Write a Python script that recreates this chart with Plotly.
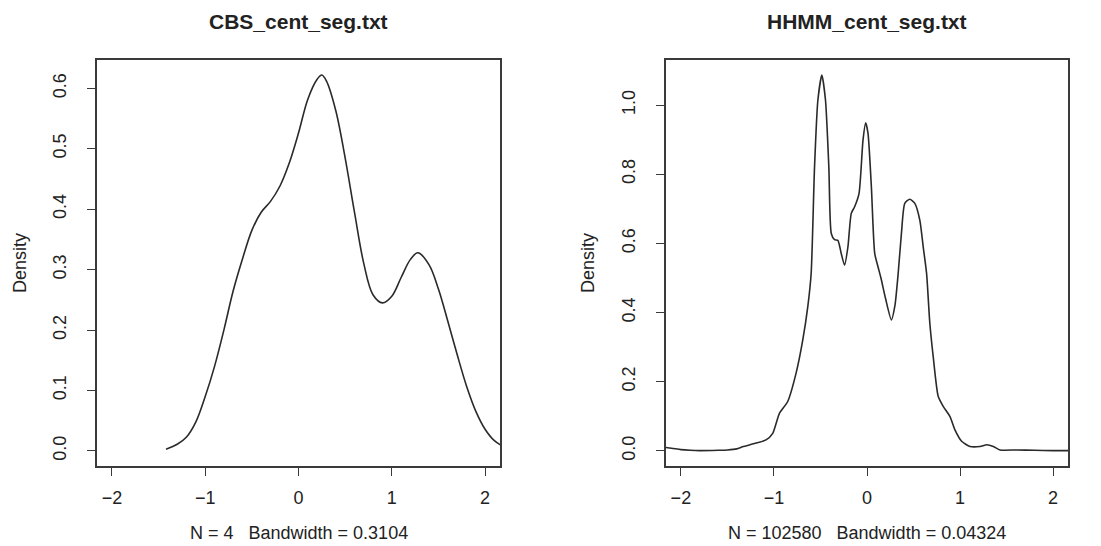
import plotly.graph_objects as go

# ---- data ----
cbs_title = "CBS_cent_seg.txt"
cbs_xlab = "N = 4\u00a0\u00a0\u00a0Bandwidth = 0.3104"
cbs_x = [-1.42, -1.3, -1.2, -1.1, -1.0, -0.9, -0.8, -0.7, -0.6, -0.5, -0.4, -0.3, -0.2, -0.1,
         0.0, 0.1, 0.2, 0.25, 0.3, 0.4, 0.5, 0.6, 0.7, 0.8, 0.9, 1.0, 1.1, 1.2, 1.28,
         1.4, 1.5, 1.6, 1.7, 1.8, 1.9, 2.0, 2.1, 2.2]
cbs_y = [0.003, 0.011, 0.023, 0.048, 0.09, 0.14, 0.2, 0.265, 0.318, 0.365, 0.395, 0.413, 0.438, 0.476,
         0.526, 0.582, 0.615, 0.622, 0.612, 0.563, 0.485, 0.395, 0.31, 0.258, 0.245, 0.256, 0.287, 0.317, 0.328,
         0.308, 0.268, 0.215, 0.16, 0.108, 0.066, 0.036, 0.017, 0.007]

hhmm_title = "HHMM_cent_seg.txt"
hhmm_xlab = "N = 102580\u00a0\u00a0\u00a0Bandwidth = 0.04324"
hhmm_x = [-2.2, -2.1, -2.0, -1.9, -1.8, -1.6, -1.5, -1.4, -1.337, -1.2, -1.085, -1.013, -0.941, -0.852,
          -0.762, -0.69, -0.636, -0.6, -0.564, -0.528, -0.485, -0.446, -0.41, -0.384, -0.349, -0.313,
          -0.277, -0.241, -0.205, -0.169, -0.133, -0.086, -0.043, -0.014, 0.011, 0.047, 0.083, 0.119,
          0.15, 0.2, 0.262, 0.3, 0.334, 0.37, 0.406, 0.46, 0.514, 0.568, 0.604, 0.64, 0.675, 0.711,
          0.765, 0.819, 0.891, 0.945, 1.017, 1.107, 1.215, 1.287, 1.358, 1.43, 1.61, 1.8, 2.0, 2.2]
hhmm_y = [0.011, 0.008, 0.004, 0.002, 0.001, 0.002, 0.003, 0.006, 0.012, 0.022, 0.032, 0.051, 0.109, 0.143,
          0.225, 0.321, 0.418, 0.514, 0.82, 1.014, 1.087, 1.014, 0.82, 0.629, 0.611, 0.609,
          0.571, 0.537, 0.59, 0.687, 0.706, 0.744, 0.899, 0.949, 0.918, 0.764, 0.571, 0.532,
          0.5, 0.44, 0.379, 0.42, 0.51, 0.629, 0.716, 0.728, 0.716, 0.667, 0.59, 0.514, 0.37, 0.274,
          0.158, 0.129, 0.1, 0.061, 0.028, 0.013, 0.013, 0.018, 0.013, 0.003, 0.003, 0.002, 0.001, 0.001]

x_ticks = [-2, -1, 0, 1, 2]
x_ticklabels = ["\u22122", "\u22121", "0", "1", "2"]
cbs_yticks = [0.0, 0.1, 0.2, 0.3, 0.4, 0.5, 0.6]
cbs_yticklabels = ["0.0", "0.1", "0.2", "0.3", "0.4", "0.5", "0.6"]
hhmm_yticks = [0.0, 0.2, 0.4, 0.6, 0.8, 1.0]
hhmm_yticklabels = ["0.0", "0.2", "0.4", "0.6", "0.8", "1.0"]
y_label = "Density"

# ---- layout constants (pixels) ----
W, H = 1101, 546
FONT = "Liberation Sans, Arial, Helvetica, sans-serif"
TXT = "#222222"
LINE = "#3a3a3a"
box_l = (97, 500)
box_r = (666, 1068)
box_top, box_bot = 60, 466

def px_x(p):
    return p / W

def px_y(p):
    return 1 - p / H

fig = go.Figure()
fig.add_trace(go.Scatter(x=cbs_x, y=cbs_y, mode="lines", xaxis="x", yaxis="y",
                         line=dict(color="#2a2a2a", width=1.6, shape="spline", smoothing=1.0),
                         hoverinfo="skip", showlegend=False, cliponaxis=True))
fig.add_trace(go.Scatter(x=hhmm_x, y=hhmm_y, mode="lines", xaxis="x2", yaxis="y2",
                         line=dict(color="#2a2a2a", width=1.6, shape="spline", smoothing=0.6),
                         hoverinfo="skip", showlegend=False, cliponaxis=True))

cbs_ymax = max(cbs_y)
hhmm_ymax = max(hhmm_y)

common_axis = dict(showline=True, linecolor=LINE, linewidth=1.5, mirror=True,
                   ticks="outside", ticklen=8, tickwidth=1.3, tickcolor=LINE,
                   showgrid=False, zeroline=False,
                   tickfont=dict(family=FONT, size=18, color=TXT))

fig.update_layout(
    width=W, height=H, margin=dict(l=0, r=0, t=0, b=0),
    paper_bgcolor="white", plot_bgcolor="white",
    xaxis=dict(domain=[px_x(box_l[0]), px_x(box_l[1])], range=[-2.16, 2.16],
               tickvals=x_ticks, ticktext=x_ticklabels,
               anchor="y", ticklabelstandoff=7, **common_axis),
    yaxis=dict(domain=[px_y(box_bot), px_y(box_top)],
               range=[-0.04 * cbs_ymax, 1.04 * cbs_ymax],
               tickvals=cbs_yticks, ticktext=cbs_yticklabels, tickangle=-90,
               anchor="x", ticklabelstandoff=14, **common_axis),
    xaxis2=dict(domain=[px_x(box_r[0]), px_x(box_r[1])], range=[-2.16, 2.16],
                tickvals=x_ticks, ticktext=x_ticklabels,
                anchor="y2", ticklabelstandoff=7, **common_axis),
    yaxis2=dict(domain=[px_y(box_bot), px_y(box_top)],
                range=[-0.04 * hhmm_ymax, 1.04 * hhmm_ymax],
                tickvals=hhmm_yticks, ticktext=hhmm_yticklabels, tickangle=-90,
                anchor="x2", ticklabelstandoff=14, **common_axis),
)

ann = []
for (l, r), title, xlab, ylab_x in [(box_l, cbs_title, cbs_xlab, 20), (box_r, hhmm_title, hhmm_xlab, 588)]:
    cx = px_x((l + r) / 2)
    ann.append(dict(text="<b>" + title + "</b>", x=cx, y=px_y(22), xref="paper", yref="paper",
                    xanchor="center", yanchor="middle", showarrow=False,
                    font=dict(family=FONT, size=21, color=TXT)))
    ann.append(dict(text=xlab, x=cx, y=px_y(533), xref="paper", yref="paper",
                    xanchor="center", yanchor="middle", showarrow=False,
                    font=dict(family=FONT, size=18, color=TXT)))
    ann.append(dict(text=y_label, x=px_x(ylab_x), y=px_y((box_top + box_bot) / 2),
                    xref="paper", yref="paper", xanchor="center", yanchor="middle",
                    textangle=-90, showarrow=False,
                    font=dict(family=FONT, size=18, color=TXT)))
fig.update_layout(annotations=ann)

fig.write_html("out.html")
